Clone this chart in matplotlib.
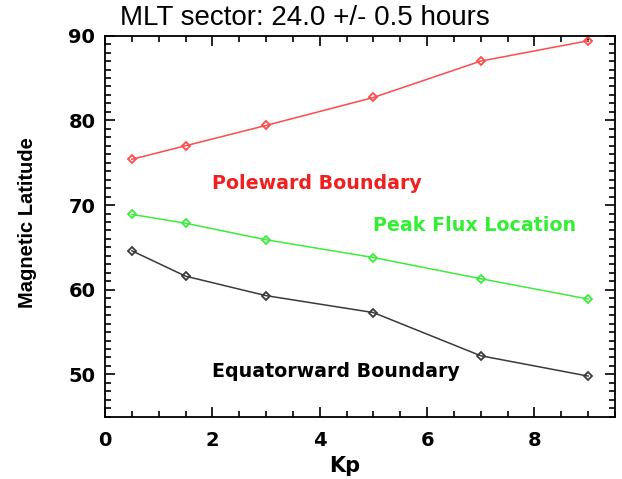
import matplotlib
matplotlib.use("Agg")
import matplotlib.pyplot as plt
from matplotlib.ticker import MultipleLocator

# Kp bins
kp = [0.5, 1.5, 3, 5, 7, 9]

# magnetic latitude of the boundaries (deg)
poleward = [75.4, 77.0, 79.4, 82.7, 87.0, 89.4]
peak_flux = [68.9, 67.85, 65.9, 63.8, 61.3, 58.9]
equatorward = [64.6, 61.6, 59.3, 57.3, 52.2, 49.8]

plt.rcParams['font.family'] = ['DejaVu Sans']

fig = plt.figure(figsize=(6.22, 4.79), dpi=100)
ax = fig.add_axes([0.1688, 0.130, 0.8199, 0.7955])

mk = dict(marker='D', markersize=4.5, markerfacecolor='none', markeredgewidth=1.3, linewidth=1.1)
ax.plot(kp, poleward, color='#ff4a4a', **mk)
ax.plot(kp, peak_flux, color='#3cec3c', **mk)
ax.plot(kp, equatorward, color='#3a3a3a', **mk)

lbl = dict(fontsize=13.7, fontweight='bold', va='center')
ax.text(2.0, 72.6, "Poleward Boundary", color='#f02020', **lbl)
ax.text(5.0, 67.6, "Peak Flux Location", color='#33ee33', **lbl)
ax.text(2.0, 50.3, "Equatorward Boundary", color='black', **lbl)

ax.set_xlim(0, 9.5)
ax.set_ylim(45, 90)
ax.xaxis.set_major_locator(MultipleLocator(2))
ax.xaxis.set_minor_locator(MultipleLocator(0.5))
ax.yaxis.set_major_locator(MultipleLocator(10))
ax.yaxis.set_minor_locator(MultipleLocator(1))
ax.tick_params(which='both', direction='in', top=True, right=True, width=1.2)
ax.tick_params(which='major', length=7, labelsize=14)
ax.tick_params(axis='x', which='major', pad=10)
ax.tick_params(axis='y', which='major', pad=7)
ax.tick_params(which='minor', length=4)
for lab in ax.get_xticklabels() + ax.get_yticklabels():
    lab.set_fontweight('bold')
for sp in ax.spines.values():
    sp.set_linewidth(1.3)

ax.set_xlabel("Kp", fontsize=15, fontweight='bold')
ax.xaxis.label.set_va('center')
ax.xaxis.set_label_coords(0.47, -0.13)
ax.set_ylabel("Magnetic Latitude", fontsize=14.5, fontweight='bold', family='Liberation Sans')
ax.yaxis.label.set_va('center')
ax.yaxis.set_label_coords(-0.151, 0.51)
fig.suptitle("MLT sector: 24.0 +/- 0.5 hours", x=0.49, y=0.963, va='center', fontsize=20,
             family='Liberation Sans')

fig.savefig("out.png", dpi=100)
